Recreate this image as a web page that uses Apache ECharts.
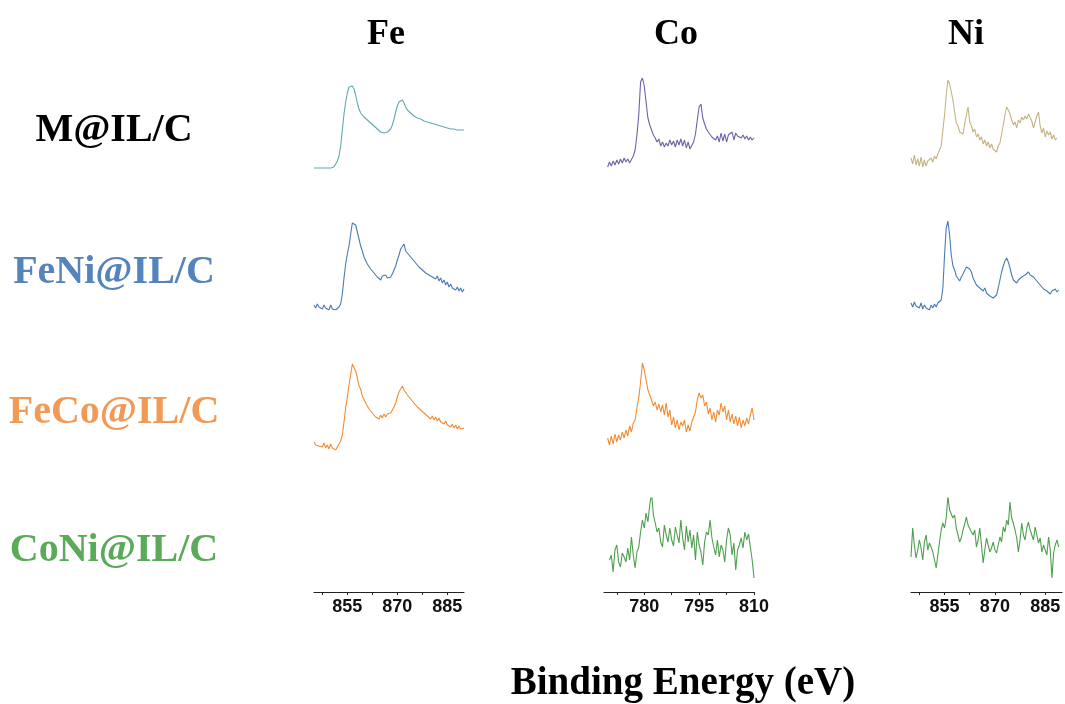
<!DOCTYPE html>
<html><head><meta charset="utf-8">
<script src="https://cdn.jsdelivr.net/npm/echarts@6/dist/echarts.min.js"></script>
<style>html,body{margin:0;padding:0;background:#fff}#c{width:1065px;height:704px}</style>
</head><body><div id="c"></div>
<script>
// ---- data ----
const columns = ['Fe', 'Co', 'Ni'];
const rows = ['M@IL/C', 'FeNi@IL/C', 'FeCo@IL/C', 'CoNi@IL/C'];
const xRanges = [[845, 890], [769, 810], [845, 890]];
const tickValues = [[847.5, 855, 862.5, 870, 877.5, 885], [772.5, 780, 787.5, 795, 802.5, 810], [847.5, 855, 862.5, 870, 877.5, 885]];
const tickLabels = [[855, 870, 885], [780, 795, 810], [855, 870, 885]];
const xLabel = 'Binding Energy (eV)';
const step = 0.5;

// Intensities (arb. units) sampled every 0.5 eV from the start energy given
const fe_M_start = 845;
const fe_M = [2,1.5,2,1.5,2,1.5,2,1,2,1.5,2,1.5,3,5,9,14,24,40,56,68,77,83,85,84,81,75,67,61,57,55,53,51,50,48,47,46,44,43,41,40,38,37,37,38,38,40,41,45,51,58,64,68,70,70,67,63,60,58,57,56,54,53,52,51,51,50,49,49,48,47,47,46,46,45,45,44,44,43,43,42,42,42,41,41,41,40,40,40,40,40,40];
const co_M_start = 770;
const co_M = [3,8,4,9,5,10,6,11,7,12,8,11,7,9,14,20,35,55,88,92,84,68,52,45,40,35,32,28,31,24,28,23,27,24,30,25,29,23,30,25,31,24,30,22,28,21,22,28,36,50,63,66,52,46,41,38,36,33,35,30,34,28,37,29,36,28,35,33,38,30,37,34,36,32,35,31,34,30,33,30,32];
const ni_M_start = 845;
const ni_M = [12,6,15,5,11,4,13,3,10,4,9,7,12,8,14,11,16,15,24,40,55,75,90,86,88,70,58,47,44,38,40,36,46,55,63,48,44,38,41,33,36,30,33,26,30,24,28,22,26,21,23,18,24,27,36,45,55,63,60,56,50,45,48,42,50,47,53,50,54,51,56,55,49,42,48,54,58,44,37,42,33,39,35,38,31,35,30,32];
const fe_FeNi_start = 845;
const fe_FeNi = [5,2,6,3,4,1,5,2,4,0,5,1,3,0,2,3,6,16,32,46,56,64,76,87,88,85,78,71,64,59,53,51,46,45,41,42,37,39,33,35,30,34,32,35,32,34,33,36,40,44,50,55,61,63,66,59,60,55,57,51,52,47,48,43,45,40,42,37,39,35,37,33,35,31,34,29,32,27,30,25,28,23,26,22,24,20,23,19,22,18,21];
const ni_FeNi_start = 845;
const ni_FeNi = [7,3,8,4,6,2,7,1,5,2,4,0,5,2,6,3,7,5,10,22,55,82,89,75,55,44,40,34,35,29,33,36,38,43,45,41,38,32,30,25,27,22,24,19,22,17,19,14,16,12,13,15,22,30,38,44,49,52,48,42,35,30,31,27,30,29,33,31,35,34,38,35,37,33,34,29,29,25,26,21,23,19,20,16,19,17,21,18,20];
const fe_FeCo_start = 845;
const fe_FeCo = [8,5,7,4,6,3,7,2,5,1,6,2,4,0,3,4,9,15,28,42,53,65,75,86,84,79,72,64,61,54,53,47,46,41,42,37,38,33,35,31,35,32,36,33,36,34,37,38,43,47,53,58,61,64,60,59,55,56,51,52,47,48,43,44,40,41,37,38,34,35,31,34,30,33,29,32,28,30,26,29,25,27,23,26,22,25,21,24,21,23,22];
const co_FeCo_start = 770;
const co_FeCo = [12,5,14,6,16,8,15,10,18,12,20,14,24,18,27,30,42,52,68,87,80,70,60,55,50,44,48,40,46,38,45,35,47,33,40,25,33,22,30,20,28,24,30,18,25,19,28,30,38,50,57,52,55,44,48,36,42,30,38,28,40,35,47,38,44,30,40,28,36,26,34,24,33,22,30,24,32,26,35,42,30];
const co_CoNi_start = 770.5;
const co_CoNi = [30,35,18,40,45,28,23,37,33,28,42,30,53,35,22,38,43,58,70,62,77,68,85,97,75,67,58,62,48,43,65,55,48,62,50,44,63,55,47,70,52,40,64,48,60,42,55,30,58,45,38,25,48,58,55,70,52,43,35,50,33,45,40,28,50,62,55,35,47,20,40,45,52,42,58,50,56,43,30,12];
const ni_CoNi_start = 845;
const ni_CoNi = [33,62,45,32,40,50,42,30,48,55,40,47,43,38,30,22,35,48,60,67,62,72,94,80,82,72,75,62,55,48,52,60,66,73,65,67,58,55,60,43,50,62,45,27,40,52,45,38,42,48,40,37,45,53,48,63,58,70,65,88,72,67,60,52,38,50,67,55,50,62,68,60,58,50,63,55,47,52,38,45,43,35,53,40,12,37,45,50,43];

// ---- layout / style ----
const rowColors = ['#000000', '#5584bd', '#f29a55', '#5aaa5a'];
const gridLeft = [314, 604, 911];
const gridWidth = [150, 150, 151];
const rowTop = [78, 218, 358, 498];
const gridH = 92;
const titleX = [386, 676, 966];
const rowLabelY = [131, 273, 413, 551];

const panels = [
  {r: 0, c: 0, color: '#62a9ad', x0: fe_M_start, y: fe_M},
  {r: 0, c: 1, color: '#6a64a6', x0: co_M_start, y: co_M},
  {r: 0, c: 2, color: '#c4b385', x0: ni_M_start, y: ni_M},
  {r: 1, c: 0, color: '#4a7bb7', x0: fe_FeNi_start, y: fe_FeNi},
  {r: 1, c: 2, color: '#4a7bb7', x0: ni_FeNi_start, y: ni_FeNi},
  {r: 2, c: 0, color: '#f28c32', x0: fe_FeCo_start, y: fe_FeCo},
  {r: 2, c: 1, color: '#f28c32', x0: co_FeCo_start, y: co_FeCo},
  {r: 3, c: 1, color: '#4f9f4f', x0: co_CoNi_start, y: co_CoNi},
  {r: 3, c: 2, color: '#4f9f4f', x0: ni_CoNi_start, y: ni_CoNi}
];

const grid = [], xAxis = [], yAxis = [], series = [];
for (let r = 0; r < 4; r++) {
  for (let c = 0; c < 3; c++) {
    const i = r * 3 + c;
    grid.push({left: gridLeft[c], top: rowTop[r], width: gridWidth[c], height: gridH});
    xAxis.push({
      type: 'value', gridIndex: i, min: xRanges[c][0], max: xRanges[c][1],
      show: r === 3, offset: 2,
      axisLine: {show: true, onZero: false, lineStyle: {color: '#222', width: 1.2}},
      axisTick: {show: true, length: 3, customValues: tickValues[c], lineStyle: {color: '#222'}},
      axisLabel: {customValues: tickLabels[c], color: '#111', fontFamily: 'Liberation Sans, Arial', fontWeight: 'bold', fontSize: 18, margin: 6},
      splitLine: {show: false}
    });
    yAxis.push({type: 'value', gridIndex: i, min: 0, max: 92, show: false});
  }
}
panels.forEach(p => {
  const i = p.r * 3 + p.c;
  series.push({
    type: 'line', xAxisIndex: i, yAxisIndex: i, symbol: 'none', showSymbol: false,
    lineStyle: {color: p.color, width: 1.1}, itemStyle: {color: p.color},
    data: p.y.map((v, k) => [p.x0 + k * step, v]), silent: true
  });
});

const graphic = [];
columns.forEach((t, c) => graphic.push({type: 'text', x: titleX[c], y: 35,
  style: {text: t, fill: '#000', font: 'bold 36px "Liberation Serif", "Times New Roman", serif', align: 'center', verticalAlign: 'middle'}}));
rows.forEach((t, r) => graphic.push({type: 'text', x: 114, y: rowLabelY[r],
  style: {text: t, fill: rowColors[r], font: 'bold 40px "Liberation Serif", "Times New Roman", serif', align: 'center', verticalAlign: 'middle'}}));
graphic.push({type: 'text', x: 683, y: 684,
  style: {text: xLabel, fill: '#000', font: 'bold 39px "Liberation Serif", "Times New Roman", serif', align: 'center', verticalAlign: 'middle'}});

const chart = echarts.init(document.getElementById('c'));
chart.setOption({animation: false, backgroundColor: '#fff', grid, xAxis, yAxis, series, graphic});
</script></body></html>
